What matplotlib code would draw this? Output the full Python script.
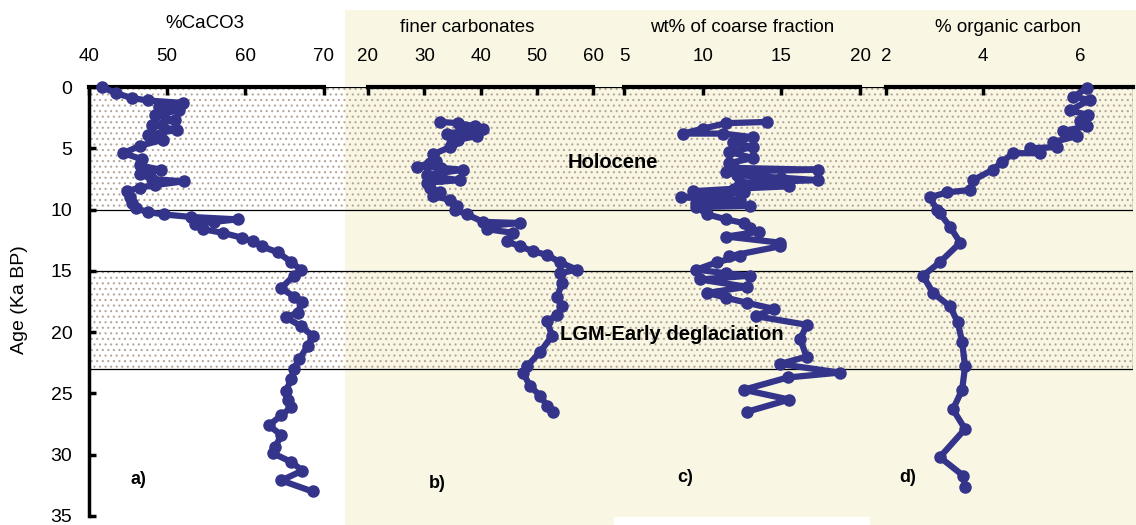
import numpy as np
import matplotlib.pyplot as plt
from matplotlib.patches import Rectangle

plt.rcParams['font.family'] = ['Liberation Sans', 'DejaVu Sans']
plt.rcParams['hatch.linewidth'] = 0.8

# a) %CaCO3
age_caco3 = [0.0, 0.5, 0.9, 1.1, 1.3, 1.6, 1.9, 2.3, 2.7, 3.1, 3.5, 3.9, 4.3, 4.8, 5.4, 5.9,
             6.4, 6.75, 7.1, 7.5, 7.7, 8.0, 8.2, 8.5, 9.0, 9.5, 9.9, 10.2, 10.4, 10.6, 10.8,
             11.0, 11.2, 11.6, 11.9, 12.3, 12.6, 13.0, 13.5, 14.3, 14.9, 15.4, 16.4, 17.1,
             17.5, 18.4, 18.8, 19.5, 20.3, 21.1, 22.2, 23.0, 23.8, 24.8, 25.5, 26.1, 26.8,
             27.6, 28.4, 29.4, 29.9, 30.6, 31.3, 32.1, 33.0]
caco3 = [41.7, 43.4, 45.5, 47.5, 52.0, 49.0, 51.5, 48.5, 51.0, 48.0, 51.3, 47.5, 49.5, 46.5,
         44.4, 46.8, 46.5, 49.2, 46.5, 48.0, 52.1, 48.5, 46.5, 44.9, 45.2, 45.5, 46.0, 47.5,
         49.6, 53.0, 59.0, 56.0, 53.6, 54.6, 57.1, 59.6, 61.0, 62.1, 64.2, 65.9, 67.1, 66.2,
         64.6, 66.2, 67.3, 66.7, 65.2, 67.1, 68.6, 68.0, 66.9, 66.2, 65.9, 65.2, 65.5, 65.9,
         64.6, 63.0, 64.6, 63.8, 63.6, 65.9, 67.3, 64.6, 68.6]

# b) finer carbonates
age_finer = [2.85, 2.95, 3.2, 3.4, 3.6, 3.8, 4.0, 4.3, 4.6, 4.9, 5.5, 6.0, 6.2, 6.5, 6.6,
             6.75, 7.0, 7.2, 7.4, 7.6, 7.8, 8.2, 8.6, 8.9, 9.2, 9.7, 10.0, 10.4, 11.0, 11.1,
             11.3, 11.6, 11.9, 12.6, 13.0, 13.4, 13.7, 14.3, 14.9, 15.2, 16.0, 17.1, 17.9,
             18.6, 19.1, 20.3, 21.6, 22.8, 23.3, 24.4, 25.2, 26.0, 26.5]
finer = [32.8, 36.0, 39.0, 40.4, 37.0, 34.0, 39.4, 36.0, 35.0, 34.6, 31.5, 32.0, 31.0, 28.7,
         33.0, 36.9, 33.0, 30.5, 33.0, 36.3, 30.5, 31.0, 32.8, 31.5, 34.6, 35.8, 35.5, 37.6,
         40.4, 47.0, 42.0, 41.1, 45.8, 44.7, 47.0, 49.3, 51.8, 54.1, 57.1, 54.1, 54.5, 53.6,
         54.5, 53.6, 51.8, 52.7, 50.6, 48.2, 47.5, 48.8, 50.6, 51.8, 52.9]

# c) wt% of coarse fraction
age_coarse = [2.85, 2.95, 3.4, 3.8, 3.8, 4.1, 4.5, 4.9, 5.3, 5.8, 6.2, 6.6, 6.75, 6.9, 7.2,
              7.4, 7.6, 7.8, 8.1, 8.3, 8.5, 8.6, 9.0, 9.2, 9.5, 9.7, 9.8, 10.4, 10.8, 11.1,
              11.5, 11.8, 12.2, 12.7, 13.0, 13.8, 13.8, 14.3, 14.9, 15.2, 15.4, 15.7, 16.3,
              16.8, 17.2, 17.6, 18.1, 18.7, 19.4, 20.6, 22.0, 22.6, 23.3, 23.7, 24.7, 25.5,
              26.5]
coarse = [14.1, 11.5, 10.0, 8.75, 11.3, 13.2, 11.9, 13.2, 11.7, 13.2, 11.7, 12.0, 17.3, 11.5,
          12.2, 15.0, 17.3, 12.4, 15.5, 12.0, 9.4, 12.6, 8.6, 12.4, 9.6, 13.0, 9.6, 10.3, 11.5,
          12.6, 13.0, 13.6, 11.5, 14.9, 14.9, 11.7, 12.4, 10.9, 9.6, 11.5, 13.0, 9.8, 12.8,
          10.3, 11.5, 12.8, 14.5, 13.4, 16.6, 16.2, 16.6, 14.9, 18.7, 15.4, 12.6, 15.5, 12.8]

# d) % organic carbon
age_org = [0.1, 0.8, 1.05, 1.9, 2.3, 2.8, 3.2, 3.6, 4.0, 4.5, 4.9, 5.0, 5.4, 5.4, 6.1, 6.75,
           7.6, 8.4, 8.6, 9.0, 10.0, 10.3, 11.4, 12.7, 14.3, 15.4, 16.8, 17.9, 19.2, 20.8,
           22.8, 24.7, 26.3, 27.9, 30.2, 31.7, 32.6]
org_c = [6.14, 5.86, 6.2, 5.8, 6.16, 6.0, 6.14, 5.65, 5.94, 5.44, 5.52, 4.97, 5.18, 4.62, 4.4,
         4.2, 3.8, 3.73, 3.26, 2.9, 3.05, 3.11, 3.32, 3.53, 3.11, 2.76, 2.97, 3.32, 3.48, 3.57,
         3.63, 3.57, 3.38, 3.63, 3.11, 3.59, 3.63]

W, H = 1136, 525
y_top, y_bot = 87, 516
line_col = '#34348a'
dot_col = '#b5a699'


def fx(px):
    return px / W


def fy(py):
    return 1 - py / H


fig = plt.figure(figsize=(W / 100, H / 100), dpi=100)

# beige background on the right part
fig.patches.append(Rectangle((fx(345), 0), fx(1136) - fx(345), fy(10),
                             transform=fig.transFigure, facecolor='#f9f7e3',
                             edgecolor='none', zorder=-2))
fig.patches.append(Rectangle((fx(614), 0), fx(870) - fx(614), fy(517),
                             transform=fig.transFigure, facecolor='white',
                             edgecolor='none', zorder=-1))

# base axes: age axis and shaded periods
base = fig.add_axes([fx(89), fy(y_bot), fx(1133) - fx(89), (y_bot - y_top) / H])
base.set_facecolor('none')
base.set_xlim(0, 1)
base.set_ylim(35, 0)
for s in ['top', 'right', 'bottom']:
    base.spines[s].set_visible(False)
base.spines['left'].set_linewidth(2.5)
base.set_xticks([])
base.set_yticks(np.arange(0, 36, 5))
base.tick_params(axis='y', direction='in', length=5, width=2.5, labelsize=14, pad=12)

for a0, a1 in [(0, 10), (15, 23)]:
    base.add_patch(Rectangle((0, a0), 1, a1 - a0, facecolor='none', edgecolor=dot_col,
                             hatch='...', lw=0, zorder=0))
    base.add_patch(Rectangle((0, a0), 1, a1 - a0, facecolor='none', edgecolor='black',
                             lw=0.9, zorder=1))

fig.text(fx(20), fy(300), 'Age (Ka BP)', rotation=90, ha='center', va='center', fontsize=14)

# panels: (values, ages, value at p0, p0 pixel, px per unit, left px, right px, ticks, spine end)
panels = [
    (caco3, age_caco3, 40, 83, 8.0, 89, 345, [40, 50, 60, 70], 70),
    (finer, age_finer, 20, 368, 5.63, 345, 610, [20, 30, 40, 50, 60], 60),
    (coarse, age_coarse, 5, 624, 15.74, 610, 875, [5, 10, 15, 20], 20),
    (org_c, age_org, 2, 886, 48.5, 875, 1133, [2, 4, 6], 2 + (1133 - 886) / 48.5),
]

for vals, ages, v0, p0, scale, L, R, ticks, vend in panels:
    ax = fig.add_axes([fx(L), fy(y_bot), (R - L) / W, (y_bot - y_top) / H])
    ax.set_facecolor('none')
    ax.set_xlim(v0 + (L - p0) / scale, v0 + (R - p0) / scale)
    ax.set_ylim(35, 0)
    for s in ['left', 'right', 'bottom']:
        ax.spines[s].set_visible(False)
    ax.spines['top'].set_linewidth(3)
    ax.spines['top'].set_bounds(ticks[0], vend)
    ax.set_yticks([])
    ax.xaxis.tick_top()
    ax.set_xticks(ticks)
    ax.tick_params(axis='x', direction='in', length=6, width=2.5, labelsize=13.5, pad=16)
    ax.plot(vals, ages, '-o', color=line_col, lw=4.5, ms=8, clip_on=False, zorder=3)

titles = [('%CaCO3', 205, 24), ('finer carbonates', 467, 27),
          ('wt% of coarse fraction', 742, 27), ('% organic carbon', 1008, 28)]
for t, x, y in titles:
    fig.text(fx(x), fy(y), t, ha='center', va='center', fontsize=13.5)

for t, x, y in [('a)', 138, 480), ('b)', 437, 483), ('c)', 685, 478), ('d)', 908, 478)]:
    fig.text(fx(x), fy(y), t, ha='center', va='center', fontsize=13, fontweight='bold')

fig.text(fx(613), fy(163), 'Holocene', ha='center', va='center', fontsize=14.5, fontweight='bold')
fig.text(fx(672), fy(335), 'LGM-Early deglaciation', ha='center', va='center',
         fontsize=14.5, fontweight='bold')

fig.savefig('out.png', dpi=100)
